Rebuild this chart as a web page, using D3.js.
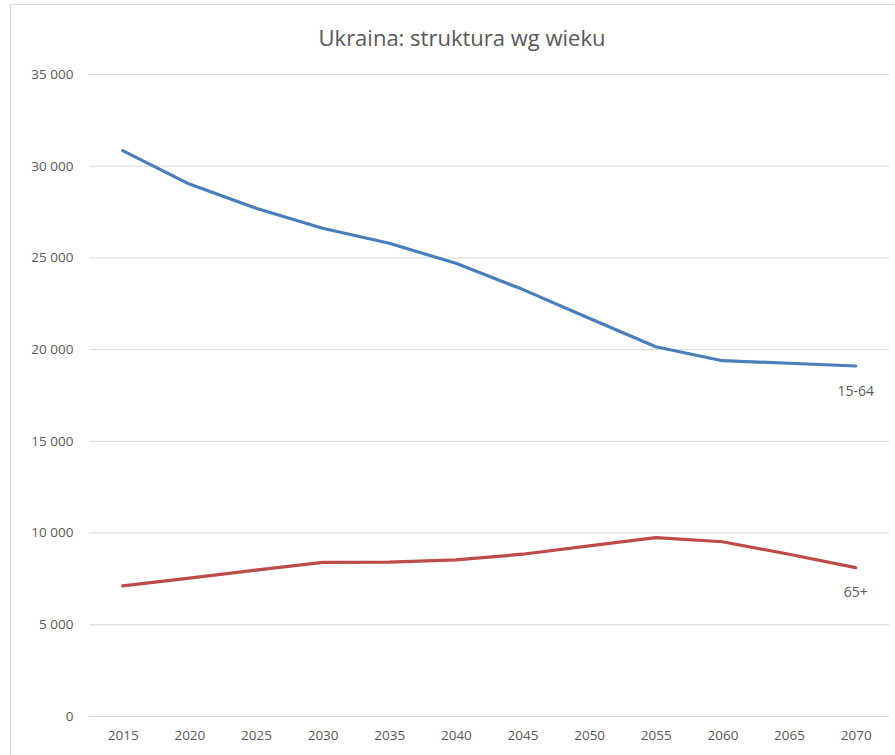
<!DOCTYPE html>
<html>
<head>
<meta charset="utf-8">
<script src="https://cdn.jsdelivr.net/npm/d3@7"></script>
<style>
  html, body { margin: 0; padding: 0; background: #fff; }
  svg { display: block; }
</style>
</head>
<body>
<svg id="chart" width="895" height="755"></svg>
<script>
const years = ["2015","2020","2025","2030","2035","2040","2045","2050","2055","2060","2065","2070"];
const working = [30820, 29000, 27680, 26590, 25770, 24680, 23260, 21680, 20130, 19370, 19230, 19080];
const elderly = [7090, 7520, 7950, 8380, 8390, 8510, 8820, 9270, 9720, 9500, 8820, 8090];
const seriesNames = ["15-64", "65+"];
const yTicks = [0, 5000, 10000, 15000, 20000, 25000, 30000, 35000];
const title = "Ukraina: struktura wg wieku";

const svg = d3.select("#chart");
const font = "'Open Sans', 'Noto Sans', sans-serif";
const textColor = "#595959";

// chart border
svg.append("rect").attr("x", 10.5).attr("y", 4.5).attr("width", 900).attr("height", 800)
  .attr("fill", "none").attr("stroke", "#d9d9d9").attr("stroke-width", 1);

const x = d3.scalePoint().domain(years).range([89.4, 889]).padding(0.5);
const y = d3.scaleLinear().domain([0, 35000]).range([716, 74]);

const locale = d3.formatLocale({decimal: ",", thousands: "\u00a0", grouping: [3], currency: ["", " zł"]});
const fmt = locale.format(",d");

// gridlines
const yAxis = d3.axisLeft(y).tickValues(yTicks).tickFormat(fmt).tickSize(-(889 - 89.4)).tickPadding(16);
const gy = svg.append("g").attr("transform", "translate(89.4,0)").call(yAxis);
gy.select(".domain").remove();
gy.selectAll(".tick line").attr("stroke", "#d9d9d9").attr("stroke-width", 1);
gy.selectAll(".tick text").attr("fill", textColor).style("font-family", font).style("font-size", "13.5px");

const xAxis = d3.axisBottom(x).tickSize(0).tickPadding(14);
const gx = svg.append("g").attr("transform", "translate(0,716)").call(xAxis);
gx.select(".domain").remove();
gx.selectAll(".tick text").attr("fill", textColor).style("font-family", font).style("font-size", "13.5px");

const line = d3.line().x((d, i) => x(years[i])).y(d => y(d));

svg.append("path").datum(working).attr("d", line).attr("fill", "none")
  .attr("stroke", "#4a7ebb").attr("stroke-width", 3.2).attr("stroke-linejoin", "round").attr("stroke-linecap", "round");
svg.append("path").datum(elderly).attr("d", line).attr("fill", "none")
  .attr("stroke", "#be4b48").attr("stroke-width", 3.2).attr("stroke-linejoin", "round").attr("stroke-linecap", "round");

// end labels
const last = years.length - 1;
svg.append("text").attr("x", x(years[last])).attr("y", y(working[last]) + 30)
  .attr("text-anchor", "middle").attr("fill", textColor)
  .style("font-family", font).style("font-size", "14px").text(seriesNames[0]);
svg.append("text").attr("x", x(years[last])).attr("y", y(elderly[last]) + 29)
  .attr("text-anchor", "middle").attr("fill", textColor)
  .style("font-family", font).style("font-size", "14px").text(seriesNames[1]);

// title
svg.append("text").attr("x", 462).attr("y", 46).attr("text-anchor", "middle")
  .attr("fill", textColor).style("font-family", font).style("font-size", "22px").text(title);
</script>
</body>
</html>
